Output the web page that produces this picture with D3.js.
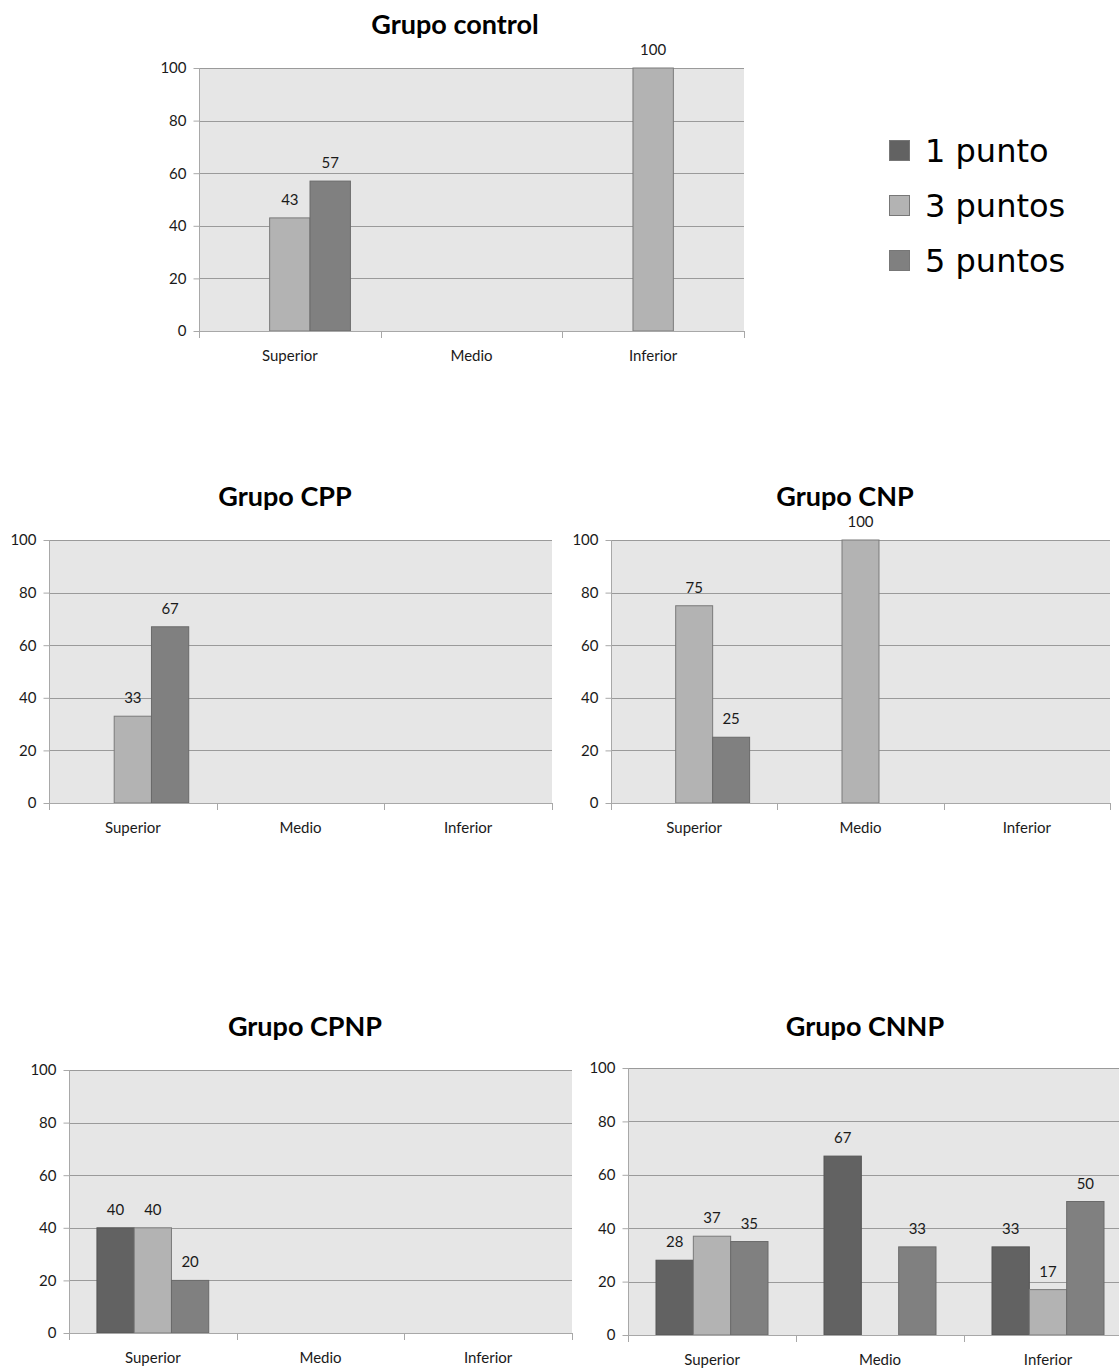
<!DOCTYPE html>
<html>
<head>
<meta charset="utf-8">
<script src="https://cdn.jsdelivr.net/npm/d3@7"></script>
<style>
  html, body { margin: 0; padding: 0; background: #fff; }
  svg { display: block; }
</style>
</head>
<body>
<script>
// ---- data ----
const categories = ["Superior", "Medio", "Inferior"];
const seriesNames = ["1 punto", "3 puntos", "5 puntos"];
const yTicks = [0, 20, 40, 60, 80, 100];

const controlUno = [null, null, null];
const controlTres = [43, null, 100];
const controlCinco = [57, null, null];

const cppUno = [null, null, null];
const cppTres = [33, null, null];
const cppCinco = [67, null, null];

const cnpUno = [null, null, null];
const cnpTres = [75, 100, null];
const cnpCinco = [25, null, null];

const cpnpUno = [40, null, null];
const cpnpTres = [40, null, null];
const cpnpCinco = [20, null, null];

const cnnpUno = [28, 67, 33];
const cnnpTres = [37, null, 17];
const cnnpCinco = [35, 33, 50];

const titles = ["Grupo control", "Grupo CPP", "Grupo CNP", "Grupo CPNP", "Grupo CNNP"];

// ---- styling / layout ----
const colors = ["#626262", "#b3b3b3", "#808080"];
const strokes = ["#555555", "#7a7a7a", "#6a6a6a"];
const baseFont = "Lato, 'Open Sans', sans-serif";

const panels = [
  { title: titles[0], series: [controlUno, controlTres, controlCinco], left: 199, right: 744, top: 68, bottom: 331, tx: 455, ty: 34 },
  { title: titles[1], series: [cppUno, cppTres, cppCinco], left: 49, right: 552, top: 540, bottom: 803, tx: 285, ty: 506 },
  { title: titles[2], series: [cnpUno, cnpTres, cnpCinco], left: 611, right: 1110, top: 540, bottom: 803, tx: 845, ty: 506 },
  { title: titles[3], series: [cpnpUno, cpnpTres, cpnpCinco], left: 69, right: 572, top: 1070, bottom: 1333, tx: 305, ty: 1036 },
  { title: titles[4], series: [cnnpUno, cnnpTres, cnnpCinco], left: 628, right: 1132, top: 1068, bottom: 1335, tx: 865, ty: 1036 }
];

const W = 1119, H = 1368;
const svg = d3.select("body").append("svg").attr("width", W).attr("height", H);

panels.forEach(p => {
  const g = svg.append("g");
  const x0 = d3.scaleBand().domain(categories).range([p.left, p.right]).paddingInner(0).paddingOuter(0);
  // Excel gap width 150%: bar = band / 4.5, outer gap 0.75 bar on each side
  const barW = x0.bandwidth() / 4.5;
  const x1 = d3.scaleBand().domain(d3.range(3)).range([0.75 * barW, 3.75 * barW]).padding(0);
  const y = d3.scaleLinear().domain([0, 100]).range([p.bottom, p.top]);

  // plot area background
  g.append("rect").attr("x", p.left).attr("y", p.top)
    .attr("width", p.right - p.left).attr("height", p.bottom - p.top)
    .attr("fill", "#e6e6e6");

  // gridlines
  g.append("g").selectAll("line").data(yTicks.filter(t => t > 0)).join("line")
    .attr("x1", p.left).attr("x2", p.right)
    .attr("y1", d => Math.round(y(d)) + 0.5).attr("y2", d => Math.round(y(d)) + 0.5)
    .attr("stroke", "#9a9a9a").attr("stroke-width", 1);

  // bars
  p.series.forEach((vals, si) => {
    const pts = categories.map((c, i) => ({ c, v: vals[i] })).filter(d => d.v != null);
    g.append("g").selectAll("rect").data(pts)
      .join("rect")
      .attr("x", d => x0(d.c) + x1(si))
      .attr("y", d => y(d.v))
      .attr("width", x1.bandwidth())
      .attr("height", d => y(0) - y(d.v))
      .attr("fill", colors[si])
      .attr("stroke", strokes[si]).attr("stroke-width", 1);
    g.append("g").selectAll("text").data(pts)
      .join("text")
      .attr("x", d => x0(d.c) + x1(si) + x1.bandwidth() / 2)
      .attr("y", d => y(d.v) - 13)
      .attr("text-anchor", "middle")
      .style("font-family", baseFont).style("font-size", "15px").style("fill", "#1a1a1a")
      .text(d => d.v);
  });

  // y axis
  const yAxis = d3.axisLeft(y).tickValues(yTicks).tickSize(6).tickPadding(7).tickFormat(d3.format("d"));
  const ya = g.append("g").attr("transform", `translate(${p.left + 0.5},0)`).call(yAxis);
  ya.select(".domain").attr("stroke", "#a8a8a8").attr("d", `M0,${p.top}V${p.bottom}`);
  ya.selectAll(".tick line").attr("stroke", "#a8a8a8");
  ya.selectAll(".tick text").style("font-size", "15px").style("font-family", baseFont).style("fill", "#1a1a1a");

  // x axis
  const xAxis = d3.axisBottom(x0).tickSize(0).tickPadding(0);
  const xa = g.append("g").attr("transform", `translate(0,${p.bottom + 0.5})`).call(xAxis);
  xa.select(".domain").attr("stroke", "#a8a8a8").attr("d", `M${p.left},0H${p.right}`);
  xa.selectAll(".tick text").style("font-size", "15px").style("font-family", baseFont)
    .style("fill", "#1a1a1a").attr("dy", 0).attr("y", 29);
  // category boundary ticks
  const bounds = categories.map(c => x0(c)).concat([p.right]);
  g.append("g").selectAll("line").data(bounds).join("line")
    .attr("x1", d => Math.round(d) + 0.5).attr("x2", d => Math.round(d) + 0.5)
    .attr("y1", p.bottom).attr("y2", p.bottom + 7)
    .attr("stroke", "#a8a8a8");

  // title
  g.append("text").attr("x", p.tx).attr("y", p.ty).attr("text-anchor", "middle")
    .style("font-family", baseFont).style("font-size", "27px").style("font-weight", "bold")
    .style("fill", "#000").text(p.title);
});

// legend
const legend = svg.append("g");
const legendY = d3.scalePoint().domain(seriesNames).range([151, 261]);
seriesNames.forEach((s, i) => {
  legend.append("rect").attr("x", 889.5).attr("y", legendY(s) - 10.5).attr("width", 20).attr("height", 20)
    .attr("fill", colors[i]).attr("stroke", "#777").attr("stroke-width", 1);
  legend.append("text").attr("x", 925).attr("y", legendY(s) + 11)
    .style("font-family", "'DejaVu Sans', sans-serif").style("font-size", "32px").style("fill", "#000").text(s);
});
</script>
</body>
</html>
